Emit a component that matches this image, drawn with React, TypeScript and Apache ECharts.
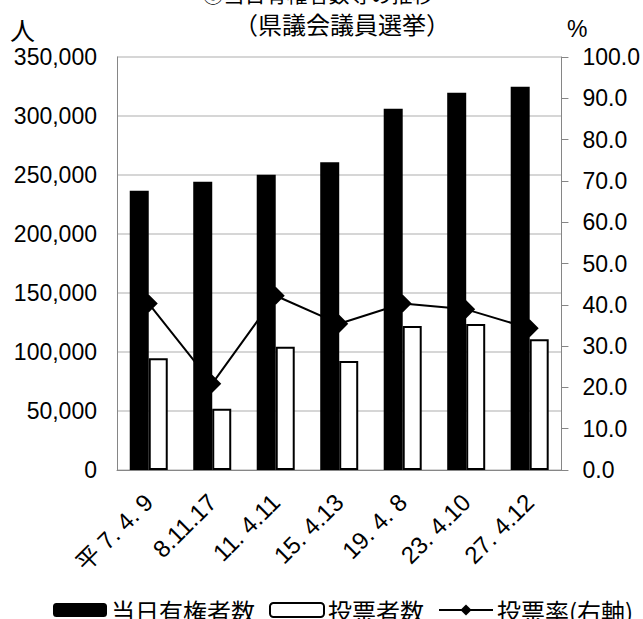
import React, { useEffect, useRef } from "react";
import * as echarts from "echarts";

const categories = ["平 7. 4. 9", "8.11.17", "11. 4.11", "15. 4.13", "19. 4. 8", "23. 4.10", "27. 4.12"];
const electorate = [236700, 244300, 250300, 260800, 306200, 319700, 324800];
const voters = [94700, 51900, 104500, 92400, 122000, 123700, 110800];
const turnout = [40.3, 20.9, 42.2, 35.4, 40.3, 38.9, 34.3];
const titleLine1 = "③当日有権者数等の推移";
const titleLine2 = "（県議会議員選挙）";

const FONT = "'Liberation Sans', 'Noto Sans CJK JP', sans-serif";
const CJK = "'Noto Sans CJK JP', 'Liberation Sans', sans-serif";

export default function App() {
  const ref = useRef<HTMLDivElement>(null);
  useEffect(() => {
    document.body.style.margin = "0";
    const chart = echarts.init(ref.current!, null, { renderer: "svg" });
    chart.setOption({
      animation: false,
      backgroundColor: "#ffffff",
      title: [
        {
          text: titleLine1,
          left: 318,
          top: -18,
          padding: 0,
          textAlign: "center",
          textStyle: { fontFamily: CJK, fontSize: 21, fontWeight: "normal", color: "#000" },
        },
        {
          text: titleLine2,
          left: 342,
          top: 11,
          padding: 0,
          textAlign: "center",
          textStyle: { fontFamily: CJK, fontSize: 24, fontWeight: "normal", color: "#000" },
        },
      ],
      graphic: [
        { type: "text", left: 10, top: 16, style: { text: "人", fontFamily: CJK, fontSize: 25, fill: "#000" } },
        { type: "text", left: 567, top: 17, style: { text: "%", fontFamily: FONT, fontSize: 23, fill: "#000" } },
      ],
      legend: {
        left: 53,
        top: 598,
        width: 590,
        padding: 0,
        itemWidth: 54,
        itemHeight: 14,
        itemGap: 14,
        textStyle: { fontFamily: CJK, fontSize: 24, color: "#000", padding: [0, 0, 0, -1] },
        data: ["当日有権者数", "投票者数", "投票率(右軸)"],
      },
      grid: { left: 117, right: 81, top: 57, bottom: 149 },
      xAxis: {
        type: "category",
        data: categories,
        axisLine: { lineStyle: { color: "#868686", width: 1 } },
        axisTick: { show: false },
        axisLabel: {
          rotate: 45,
          margin: 28,
          fontFamily: FONT,
          fontSize: 24,
          color: "#000",
          interval: 0,
        },
      },
      yAxis: [
        {
          type: "value",
          min: 0,
          max: 350000,
          interval: 50000,
          axisLine: { show: true, lineStyle: { color: "#868686" } },
          axisTick: { show: false },
          splitLine: { lineStyle: { color: "#c8c8c8", width: 1.5 } },
          axisLabel: {
            margin: 20,
            fontFamily: FONT,
            fontSize: 23,
            color: "#000",
            formatter: (v: number) => v.toLocaleString("en-US"),
          },
        },
        {
          type: "value",
          min: 0,
          max: 100,
          interval: 10,
          axisLine: { show: true, lineStyle: { color: "#868686" } },
          axisTick: { show: true, length: 7, lineStyle: { color: "#868686" } },
          splitLine: { show: false },
          axisLabel: {
            margin: 21,
            fontFamily: FONT,
            fontSize: 23,
            color: "#000",
            formatter: (v: number) => v.toFixed(1),
          },
        },
      ],
      series: [
        {
          name: "当日有権者数",
          type: "bar",
          data: electorate,
          barWidth: 19,
          barGap: "0%",
          z: 3,
          itemStyle: { color: "#000000" },
        },
        {
          name: "投票者数",
          type: "bar",
          data: voters,
          barWidth: 19,
          z: 3,
          itemStyle: { color: "#ffffff", borderColor: "#000000", borderWidth: 2 },
        },
        {
          name: "投票率(右軸)",
          type: "line",
          yAxisIndex: 1,
          data: turnout,
          z: 1,
          symbol: "diamond",
          symbolSize: 18,
          lineStyle: { color: "#000", width: 2 },
          itemStyle: { color: "#000" },
        },
      ],
    });
    return () => chart.dispose();
  }, []);
  return <div ref={ref} style={{ position: "fixed", left: 0, top: 0, width: 643, height: 619 }} />;
}
